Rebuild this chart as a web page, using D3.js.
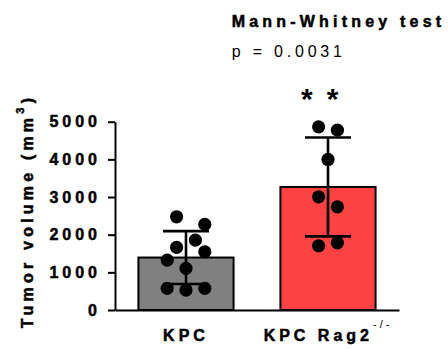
<!DOCTYPE html>
<html>
<head>
<meta charset="utf-8">
<script src="https://cdn.jsdelivr.net/npm/d3@7"></script>
<style>
  body { margin: 0; background: #fff; }
  text { font-family: Arial, "Liberation Sans", sans-serif; }
</style>
</head>
<body>
<svg id="chart" width="448" height="349"></svg>
<script>
// data
const categories = ['KPC', 'KPC Rag2'];
const kpcValues = [2475, 2273, 1857, 1663, 1547, 1326, 1106, 576, 530, 576];
const ragValues = [4863, 4775, 3997, 3006, 2740, 1706, 1785];
// horizontal spread of the dots, in dot-width steps
const kpcJitter = [-1, 2, 1, -1, 2, -2, 0, -2, 0, 2];
const ragJitter = [-1, 1, 0, -1, 1, -1, 1];
const yTicks = [0, 1000, 2000, 3000, 4000, 5000];
const barColors = ['#808080', '#fc4242'];

const groups = [
  { name: categories[0], values: kpcValues, jitter: kpcJitter, color: barColors[0] },
  { name: categories[1], values: ragValues, jitter: ragJitter, color: barColors[1] }
];
groups.forEach(g => { g.mean = d3.mean(g.values); g.sd = d3.deviation(g.values); });

const svg = d3.select('#chart');

const x = d3.scaleBand()
  .domain(categories)
  .range([115, 399])
  .paddingInner(0.33)
  .paddingOuter(0.165);

const y = d3.scaleLinear()
  .domain([0, 5000])
  .range([310, 121.7]);

// bars
svg.append('g')
  .selectAll('rect')
  .data(groups)
  .join('rect')
  .attr('x', d => x(d.name))
  .attr('y', d => y(d.mean))
  .attr('width', x.bandwidth())
  .attr('height', d => y(0) - y(d.mean))
  .attr('fill', d => d.color)
  .attr('stroke', '#000')
  .attr('stroke-width', 2);

// error bars (mean +/- SD)
const capHalf = 23;
const err = svg.append('g').attr('stroke', '#000').attr('stroke-width', 2.6);
groups.forEach(g => {
  const cx = x(g.name) + x.bandwidth() / 2;
  err.append('line').attr('x1', cx).attr('x2', cx)
    .attr('y1', y(g.mean + g.sd)).attr('y2', y(g.mean - g.sd));
  [g.mean + g.sd, g.mean - g.sd].forEach(v => {
    err.append('line').attr('x1', cx - capHalf).attr('x2', cx + capHalf)
      .attr('y1', y(v)).attr('y2', y(v));
  });
});

// dots
const step = 9.4;
groups.forEach(g => {
  const cx = x(g.name) + x.bandwidth() / 2;
  svg.append('g')
    .selectAll('circle')
    .data(g.values)
    .join('circle')
    .attr('cx', (d, i) => cx + g.jitter[i] * step)
    .attr('cy', d => y(d))
    .attr('r', 6.6)
    .attr('fill', '#000');
});

// bold labels, a thin stroke makes them as heavy as the original
const labelFont = sel => sel
  .style('font-family', 'Arial, "Liberation Sans", sans-serif')
  .style('font-size', '16px')
  .style('font-weight', 'bold')
  .style('letter-spacing', '4px')
  .attr('fill', '#000')
  .attr('stroke', '#000')
  .attr('stroke-width', 0.5);

// y axis
const yAxis = svg.append('g')
  .attr('transform', 'translate(115,0)')
  .call(d3.axisLeft(y).tickValues(yTicks).tickFormat(d3.format('d'))
    .tickSize(7).tickSizeOuter(0).tickPadding(11));
yAxis.select('.domain').attr('stroke-width', 2);
yAxis.selectAll('.tick line').attr('stroke-width', 2);
yAxis.selectAll('.tick text').call(labelFont).attr('dx', 4);

// x axis
const xAxis = svg.append('g')
  .attr('transform', 'translate(0,310)')
  .call(d3.axisBottom(x).tickSize(0).tickSizeOuter(0).tickPadding(20));
xAxis.select('.domain').attr('stroke-width', 2);
xAxis.selectAll('.tick text')
  .call(labelFont)
  .each(function (d) {
    if (d === 'KPC Rag2') {
      const t = d3.select(this);
      t.text(null);
      t.append('tspan').text('KPC Rag2');
      t.append('tspan').text('-/-')
        .style('font-size', '11px').style('font-weight', 'normal')
        .attr('stroke-width', 0)
        .style('letter-spacing', '3px').attr('dy', -13);
    }
  });

// y axis title
const yt = svg.append('text')
  .attr('transform', 'translate(33,211) rotate(-90)')
  .attr('text-anchor', 'middle')
  .call(labelFont)
  .style('letter-spacing', '4.2px');
yt.append('tspan').text('Tumor volume (mm');
yt.append('tspan').text('3').style('font-size', '11px').attr('dy', -9);
yt.append('tspan').text(')').attr('dy', 9);

// significance
svg.append('text')
  .attr('x', 301)
  .attr('y', 109)
  .style('font-size', '30px')
  .style('font-weight', 'bold')
  .style('letter-spacing', '14px')
  .text('**');

// test label
svg.append('text')
  .attr('x', 231.7)
  .attr('y', 26.7)
  .call(labelFont)
  .style('letter-spacing', '4.2px')
  .text('Mann-Whitney test');
svg.append('text')
  .attr('x', 231.7)
  .attr('y', 56.5)
  .style('font-size', '16px')
  .style('letter-spacing', '3.8px')
  .text('p = 0.0031');
</script>
</body>
</html>
